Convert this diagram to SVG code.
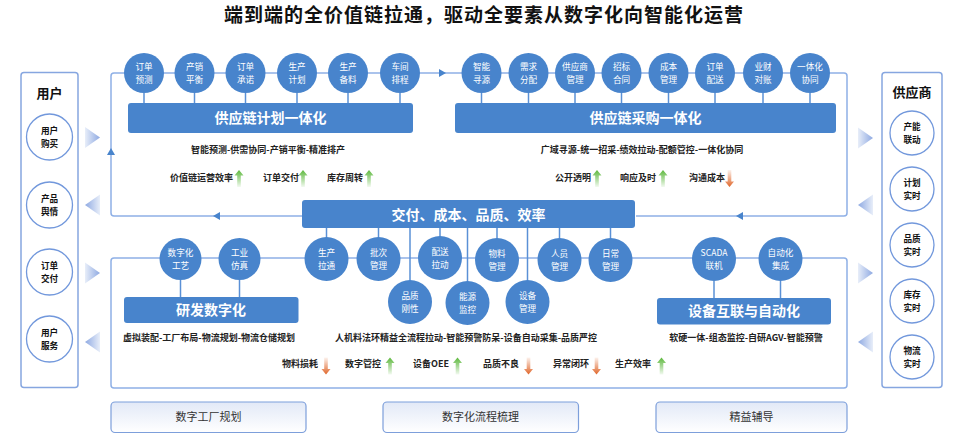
<svg xmlns="http://www.w3.org/2000/svg" xmlns:xlink="http://www.w3.org/1999/xlink" width="971" height="438" viewBox="0 0 971 438">
<defs>
<style>
text{font-family:"Noto Sans CJK SC","Liberation Sans",sans-serif;}
.frame{fill:none;stroke:#8fb0e6;stroke-width:1.5;}
.stem{stroke:#5a90d6;stroke-width:1.5;}
.bc{fill:#4884cc;}
.box{fill:#4884cc;}
.ct{fill:#fff;font-size:8.6px;text-anchor:middle;}
.bt{fill:#fff;font-size:14px;font-weight:bold;text-anchor:middle;}
.panel{fill:#fff;stroke:#86a6e0;stroke-width:1.5;}
.pc{fill:#fff;stroke:#7298dc;stroke-width:1.3;}
.pt{fill:#111;font-size:8.6px;font-weight:bold;text-anchor:middle;}
.ph{fill:#111;font-size:13px;font-weight:bold;text-anchor:middle;}
.sub{fill:#222;font-size:9px;font-weight:bold;text-anchor:middle;}
.kpi{fill:#222;font-size:9px;font-weight:bold;}
.btn{fill:url(#btnG);stroke:#7d9fdb;stroke-width:1.2;}
.btt{fill:#333;font-size:11px;text-anchor:middle;}
.mk{fill:#4884cc;}
</style>
<linearGradient id="triR" x1="0" y1="0" x2="1" y2="0"><stop offset="0" stop-color="#e8eef9"/><stop offset="1" stop-color="#8ea9e2"/></linearGradient>
<linearGradient id="triL" x1="1" y1="0" x2="0" y2="0"><stop offset="0" stop-color="#e8eef9"/><stop offset="1" stop-color="#8ea9e2"/></linearGradient>
<linearGradient id="gG" x1="0" y1="0" x2="0" y2="1"><stop offset="0" stop-color="#5cb83c"/><stop offset="1" stop-color="#5cb83c" stop-opacity="0.08"/></linearGradient>
<linearGradient id="gR" x1="0" y1="0" x2="0" y2="1"><stop offset="0" stop-color="#e0662a" stop-opacity="0.08"/><stop offset="1" stop-color="#e0662a"/></linearGradient>
<linearGradient id="btnG" x1="0" y1="0" x2="0" y2="1"><stop offset="0" stop-color="#e2e9f7"/><stop offset="1" stop-color="#ffffff"/></linearGradient>
<path id="up" d="M0,-8.5 L4.5,-3 L1.8,-3 L1.8,8.5 L-1.8,8.5 L-1.8,-3 L-4.5,-3 Z" fill="url(#gG)"/>
<path id="down" d="M0,8.5 L4.5,3 L1.8,3 L1.8,-8.5 L-1.8,-8.5 L-1.8,3 L-4.5,3 Z" fill="url(#gR)"/>
<polygon id="tR" points="-7.5,-10.5 7.5,0 -7.5,10.5" fill="url(#triR)"/>
<polygon id="tL" points="7.5,-10.5 -7.5,0 7.5,10.5" fill="url(#triL)"/>
</defs>

<rect width="971" height="438" fill="#fff"/>

<text x="484" y="22" font-size="19" letter-spacing="1" font-weight="bold" text-anchor="middle" fill="#111">端到端的全价值链拉通，驱动全要素从数字化向智能化运营</text>

<!-- connectors -->
<g id="connectors">
  <path class="frame" d="M302,216 L114,216 Q111,216 111,213 L111,76 Q111,73 114,73 L844,73 Q847,73 847,76 L847,213 Q847,216 844,216 L636,216"/>
  <rect class="frame" x="111" y="258" width="736" height="130" rx="3"/>
  <polygon class="mk" points="111,148 115,155 107,155"/>
  <polygon class="mk" points="446,73 439,69 439,77"/>
  <polygon class="mk" points="213,216 220,212 220,220"/>
  <polygon class="mk" points="736,216 743,212 743,220"/>
  <g class="stem">
    <line x1="144" y1="93" x2="144" y2="103"/><line x1="194.5" y1="93" x2="194.5" y2="103"/>
    <line x1="245.5" y1="93" x2="245.5" y2="103"/><line x1="297" y1="93" x2="297" y2="103"/>
    <line x1="348" y1="93" x2="348" y2="103"/><line x1="400" y1="93" x2="400" y2="103"/>
    <line x1="481.5" y1="93" x2="481.5" y2="103"/><line x1="528.5" y1="93" x2="528.5" y2="103"/>
    <line x1="575" y1="93" x2="575" y2="103"/><line x1="621.5" y1="93" x2="621.5" y2="103"/>
    <line x1="668.5" y1="93" x2="668.5" y2="103"/><line x1="715" y1="93" x2="715" y2="103"/>
    <line x1="763" y1="93" x2="763" y2="103"/><line x1="810" y1="93" x2="810" y2="103"/>
    <line x1="326.5" y1="228" x2="326.5" y2="238"/><line x1="378.5" y1="228" x2="378.5" y2="238"/>
    <line x1="410" y1="228" x2="410" y2="281"/><line x1="440" y1="228" x2="440" y2="237"/>
    <line x1="467.5" y1="228" x2="467.5" y2="282"/><line x1="497" y1="228" x2="497" y2="239"/>
    <line x1="527.5" y1="228" x2="527.5" y2="281"/><line x1="559.5" y1="228" x2="559.5" y2="239"/>
    <line x1="610.5" y1="228" x2="610.5" y2="239"/>
    <line x1="180.5" y1="280" x2="180.5" y2="297"/><line x1="239.5" y1="280" x2="239.5" y2="297"/>
    <line x1="714" y1="281" x2="714" y2="298"/><line x1="780.5" y1="281" x2="780.5" y2="298"/>
  </g>
  <use href="#tR" x="92.5" y="137.5"/>
  <use href="#tL" x="92.5" y="205"/>
  <use href="#tR" x="92.5" y="273"/>
  <use href="#tL" x="92.5" y="342"/>
  <use href="#tR" x="865.5" y="138"/>
  <use href="#tL" x="865.5" y="205"/>
  <use href="#tR" x="865.5" y="273"/>
  <use href="#tL" x="865.5" y="342"/>
</g>

<!-- user panel -->
<g id="user-panel">
  <rect class="panel" x="21" y="72.5" width="57" height="315" rx="3"/>
  <text class="ph" x="49.5" y="97.5">用户</text>
</g>
<g id="u1"><circle class="pc" cx="49.5" cy="137" r="23"/><text class="pt" x="49.5" y="134">用户<tspan x="49.5" dy="12.5">购买</tspan></text></g>
<g id="u2"><circle class="pc" cx="49.5" cy="205" r="23"/><text class="pt" x="49.5" y="202">产品<tspan x="49.5" dy="12.5">舆情</tspan></text></g>
<g id="u3"><circle class="pc" cx="49.5" cy="272" r="23"/><text class="pt" x="49.5" y="269">订单<tspan x="49.5" dy="12.5">交付</tspan></text></g>
<g id="u4"><circle class="pc" cx="49.5" cy="339" r="23"/><text class="pt" x="49.5" y="336">用户<tspan x="49.5" dy="12.5">服务</tspan></text></g>

<!-- supplier panel -->
<g id="supplier-panel">
  <rect class="panel" x="882" y="72.5" width="60" height="315" rx="3"/>
  <text class="ph" x="912" y="96.5">供应商</text>
</g>
<g id="s1"><circle class="pc" cx="912" cy="133" r="22"/><text class="pt" x="912" y="130">产能<tspan x="912" dy="12.5">联动</tspan></text></g>
<g id="s2"><circle class="pc" cx="912" cy="189" r="22"/><text class="pt" x="912" y="186">计划<tspan x="912" dy="12.5">实时</tspan></text></g>
<g id="s3"><circle class="pc" cx="912" cy="245" r="22"/><text class="pt" x="912" y="242">品质<tspan x="912" dy="12.5">实时</tspan></text></g>
<g id="s4"><circle class="pc" cx="912" cy="301" r="22"/><text class="pt" x="912" y="298">库存<tspan x="912" dy="12.5">实时</tspan></text></g>
<g id="s5"><circle class="pc" cx="912" cy="357" r="22"/><text class="pt" x="912" y="354">物流<tspan x="912" dy="12.5">实时</tspan></text></g>

<!-- planning -->
<g id="plan-box"><rect class="box" x="128" y="103" width="285" height="30" rx="3"/><text class="bt" x="270.5" y="123.3">供应链计划一体化</text></g>
<g id="p1"><circle class="bc" cx="144" cy="73" r="20"/><text class="ct" x="144" y="70">订单<tspan x="144" dy="12.5">预测</tspan></text></g>
<g id="p2"><circle class="bc" cx="194.5" cy="73" r="20"/><text class="ct" x="194.5" y="70">产销<tspan x="194.5" dy="12.5">平衡</tspan></text></g>
<g id="p3"><circle class="bc" cx="245.5" cy="73" r="20"/><text class="ct" x="245.5" y="70">订单<tspan x="245.5" dy="12.5">承诺</tspan></text></g>
<g id="p4"><circle class="bc" cx="297" cy="73" r="20"/><text class="ct" x="297" y="70">生产<tspan x="297" dy="12.5">计划</tspan></text></g>
<g id="p5"><circle class="bc" cx="348" cy="73" r="20"/><text class="ct" x="348" y="70">生产<tspan x="348" dy="12.5">备料</tspan></text></g>
<g id="p6"><circle class="bc" cx="400" cy="73" r="20"/><text class="ct" x="400" y="70">车间<tspan x="400" dy="12.5">排程</tspan></text></g>
<g id="plan-notes">
  <text class="sub" x="268" y="153.4">智能预测-供需协同-产销平衡-精准排产</text>
  <text class="kpi" x="170" y="181">价值链运营效率</text><use href="#up" x="239" y="178.5"/>
  <text class="kpi" x="263" y="181">订单交付</text><use href="#up" x="303" y="178.5"/>
  <text class="kpi" x="327" y="181">库存周转</text><use href="#up" x="369" y="178.5"/>
</g>

<!-- procurement -->
<g id="proc-box"><rect class="box" x="455" y="103" width="381" height="30" rx="3"/><text class="bt" x="645.5" y="123.3">供应链采购一体化</text></g>
<g id="q1"><circle class="bc" cx="481.5" cy="73" r="20"/><text class="ct" x="481.5" y="70">智能<tspan x="481.5" dy="12.5">寻源</tspan></text></g>
<g id="q2"><circle class="bc" cx="528.5" cy="73" r="20"/><text class="ct" x="528.5" y="70">需求<tspan x="528.5" dy="12.5">分配</tspan></text></g>
<g id="q3"><circle class="bc" cx="575" cy="73" r="20"/><text class="ct" x="575" y="70">供应商<tspan x="575" dy="12.5">管理</tspan></text></g>
<g id="q4"><circle class="bc" cx="621.5" cy="73" r="20"/><text class="ct" x="621.5" y="70">招标<tspan x="621.5" dy="12.5">合同</tspan></text></g>
<g id="q5"><circle class="bc" cx="668.5" cy="73" r="20"/><text class="ct" x="668.5" y="70">成本<tspan x="668.5" dy="12.5">管理</tspan></text></g>
<g id="q6"><circle class="bc" cx="715" cy="73" r="20"/><text class="ct" x="715" y="70">订单<tspan x="715" dy="12.5">配送</tspan></text></g>
<g id="q7"><circle class="bc" cx="763" cy="73" r="20"/><text class="ct" x="763" y="70">业财<tspan x="763" dy="12.5">对账</tspan></text></g>
<g id="q8"><circle class="bc" cx="810" cy="73" r="20"/><text class="ct" x="810" y="70">一体化<tspan x="810" dy="12.5">协同</tspan></text></g>
<g id="proc-notes">
  <text class="sub" x="642" y="153.4">广域寻源-统一招采-绩效拉动-配额管控-一体化协同</text>
  <text class="kpi" x="555" y="181">公开透明</text><use href="#up" x="597" y="178.5"/>
  <text class="kpi" x="620" y="181">响应及时</text><use href="#up" x="663" y="178.5"/>
  <text class="kpi" x="689" y="181">沟通成本</text><use href="#down" x="729.5" y="178.5"/>
</g>

<!-- central -->
<g id="core-box"><rect class="box" x="302" y="200" width="333" height="28" rx="3"/><text class="bt" x="468.5" y="219.5" font-size="15">交付、成本、品质、效率</text></g>
<g id="m1"><circle class="bc" cx="326.5" cy="259" r="22"/><text class="ct" x="326.5" y="256">生产<tspan x="326.5" dy="12.5">拉通</tspan></text></g>
<g id="m2"><circle class="bc" cx="378.5" cy="259" r="22"/><text class="ct" x="378.5" y="256">批次<tspan x="378.5" dy="12.5">管理</tspan></text></g>
<g id="m3"><circle class="bc" cx="440" cy="258" r="22"/><text class="ct" x="440" y="255">配送<tspan x="440" dy="12.5">拉动</tspan></text></g>
<g id="m4"><circle class="bc" cx="497" cy="260" r="22"/><text class="ct" x="497" y="257">物料<tspan x="497" dy="12.5">管理</tspan></text></g>
<g id="m5"><circle class="bc" cx="559.5" cy="260" r="22"/><text class="ct" x="559.5" y="257">人员<tspan x="559.5" dy="12.5">管理</tspan></text></g>
<g id="m6"><circle class="bc" cx="610.5" cy="260" r="22"/><text class="ct" x="610.5" y="257">日常<tspan x="610.5" dy="12.5">管理</tspan></text></g>
<g id="m7"><circle class="bc" cx="410" cy="302" r="22"/><text class="ct" x="410" y="299">品质<tspan x="410" dy="12.5">刚性</tspan></text></g>
<g id="m8"><circle class="bc" cx="467.5" cy="303" r="22"/><text class="ct" x="467.5" y="300">能源<tspan x="467.5" dy="12.5">监控</tspan></text></g>
<g id="m9"><circle class="bc" cx="527.5" cy="302" r="22"/><text class="ct" x="527.5" y="299">设备<tspan x="527.5" dy="12.5">管理</tspan></text></g>
<g id="core-notes">
  <text class="sub" x="466" y="341">人机料法环精益全流程拉动-智能预警防呆-设备自动采集-品质严控</text>
  <text class="kpi" x="282" y="367">物料损耗</text><use href="#down" x="326" y="366"/>
  <text class="kpi" x="345" y="367">数字管控</text><use href="#up" x="390" y="366"/>
  <text class="kpi" x="413" y="367">设备OEE</text><use href="#up" x="457.5" y="366"/>
  <text class="kpi" x="483" y="367">品质不良</text><use href="#down" x="528.5" y="366"/>
  <text class="kpi" x="553" y="367">异常闭环</text><use href="#down" x="596.5" y="366"/>
  <text class="kpi" x="615" y="367">生产效率</text><use href="#up" x="661.5" y="366"/>
</g>

<!-- R&D -->
<g id="rd-box"><rect class="box" x="124" y="297" width="174.5" height="26" rx="3"/><text class="bt" x="211" y="315">研发数字化</text></g>
<g id="r1"><circle class="bc" cx="180.5" cy="259" r="21"/><text class="ct" x="180.5" y="256">数字化<tspan x="180.5" dy="12.5">工艺</tspan></text></g>
<g id="r2"><circle class="bc" cx="239.5" cy="259" r="21"/><text class="ct" x="239.5" y="256">工业<tspan x="239.5" dy="12.5">仿真</tspan></text></g>
<text class="sub" x="209" y="341">虚拟装配-工厂布局-物流规划-物流仓储规划</text>

<!-- equipment -->
<g id="eq-box"><rect class="box" x="657" y="298" width="174" height="26.5" rx="3"/><text class="bt" x="744" y="316.3">设备互联与自动化</text></g>
<g id="e1"><circle class="bc" cx="714" cy="259" r="22"/><text class="ct" x="714" y="256">SCADA<tspan x="714" dy="12.5">联机</tspan></text></g>
<g id="e2"><circle class="bc" cx="780.5" cy="259" r="22"/><text class="ct" x="780.5" y="256">自动化<tspan x="780.5" dy="12.5">集成</tspan></text></g>
<text class="sub" x="746" y="341">软硬一体-组态监控-自研AGV-智能预警</text>

<!-- bottom buttons -->
<g id="b1"><rect class="btn" x="111" y="402" width="195" height="30.5" rx="4"/><text class="btt" x="208.5" y="421">数字工厂规划</text></g>
<g id="b2"><rect class="btn" x="383" y="402" width="195.5" height="30.5" rx="4"/><text class="btt" x="480.5" y="421">数字化流程梳理</text></g>
<g id="b3"><rect class="btn" x="656" y="402" width="191" height="30.5" rx="4"/><text class="btt" x="751.5" y="421">精益辅导</text></g>
</svg>
